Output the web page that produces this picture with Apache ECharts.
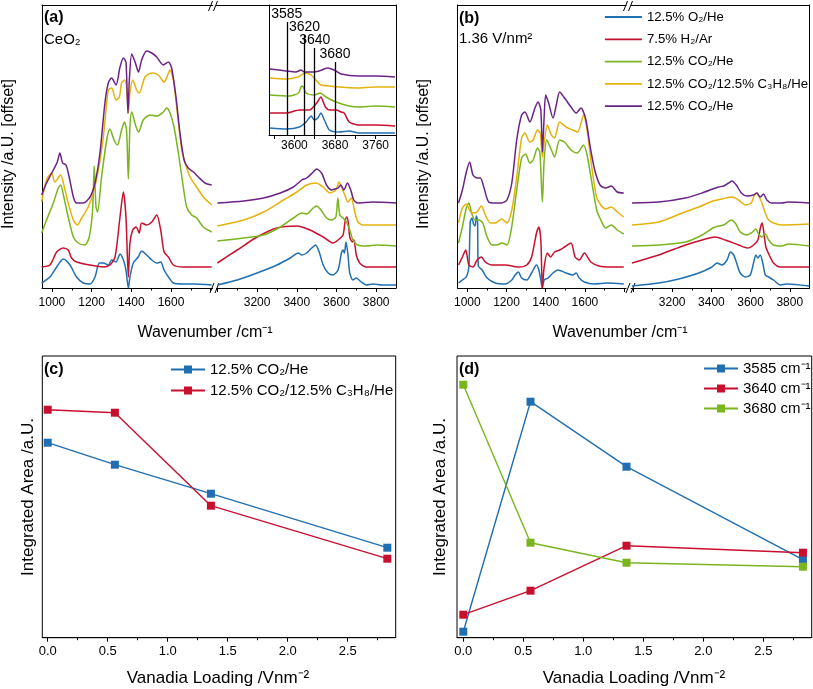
<!DOCTYPE html>
<html><head><meta charset="utf-8">
<script src="https://cdn.jsdelivr.net/npm/echarts@6/dist/echarts.min.js"></script>
<style>html,body{margin:0;padding:0;background:#fff}#c{width:813px;height:689px}</style>
</head><body><div id="c"></div>
<script>
const FONT = '"Liberation Sans", Arial, Helvetica, sans-serif';
const COLORS = ['#1f6fb2', '#c8102e', '#7ab51d', '#e5b20b', '#6b2387']; // blue, red, green, yellow, purple

// ---------- Panel (a) CeO2 : [wavenumber, offset intensity] ----------
const aBlueL = [[948,5],[990,11],[1024,21],[1057,29],[1091,23],[1124,11],[1158,5],[1192,4],[1217,11],[1239,25],[1259,25],[1284,23],[1301,28],[1323,26],[1343,34],[1360,28],[1373,18],[1385,0],[1393,11],[1410,25],[1435,31],[1452,37],[1477,33],[1503,28],[1528,25],[1548,26],[1565,18],[1587,11],[1612,5],[1662,4],[1713,4],[1805,3]];
const aRedL = [[948,21],[990,23],[1024,36],[1057,40],[1082,38],[1099,30],[1124,26],[1192,23],[1259,21],[1292,23],[1318,31],[1343,71],[1360,96],[1373,71],[1385,11],[1393,45],[1407,58],[1424,61],[1440,55],[1452,65],[1477,63],[1503,66],[1528,73],[1548,58],[1565,36],[1587,31],[1612,23],[1662,21],[1729,21],[1805,21]];
const aGreenL = [[948,55],[973,68],[1007,85],[1032,100],[1044,103],[1060,91],[1082,71],[1108,51],[1133,45],[1166,43],[1188,51],[1205,78],[1213,122],[1222,81],[1230,76],[1250,111],[1276,148],[1292,159],[1313,148],[1330,143],[1351,158],[1365,166],[1376,158],[1385,109],[1393,161],[1402,176],[1424,161],[1437,156],[1460,168],[1494,173],[1528,172],[1561,176],[1578,180],[1595,175],[1615,161],[1637,135],[1659,105],[1679,81],[1704,73],[1729,70],[1763,61],[1805,56]];
const aYellowL = [[948,86],[973,108],[998,115],[1015,106],[1044,113],[1060,103],[1082,85],[1108,68],[1128,63],[1150,70],[1183,81],[1208,95],[1234,118],[1259,151],[1284,198],[1301,200],[1323,188],[1340,191],[1351,205],[1368,208],[1380,191],[1385,175],[1393,195],[1407,208],[1427,198],[1440,195],[1469,211],[1503,215],[1536,213],[1565,206],[1578,210],[1595,218],[1612,208],[1632,175],[1654,138],[1671,125],[1696,111],[1729,101],[1763,91],[1805,83]];
const aPurpleL = [[948,93],[973,105],[1007,118],[1027,126],[1040,135],[1054,125],[1071,123],[1087,111],[1108,91],[1124,85],[1158,85],[1192,91],[1217,105],[1242,135],[1267,185],[1284,205],[1301,210],[1323,203],[1343,221],[1360,230],[1373,226],[1383,175],[1390,208],[1402,234],[1419,226],[1436,216],[1452,228],[1477,237],[1503,235],[1528,231],[1561,223],[1587,226],[1603,220],[1625,191],[1645,155],[1666,128],[1687,120],[1713,116],[1738,111],[1771,105],[1805,103]];

const aBlueR = [[3000,3],[3100,8],[3200,15],[3300,23],[3367,30],[3408,35],[3425,33],[3450,35],[3475,40],[3495,43],[3513,36],[3533,23],[3558,15],[3583,13],[3608,18],[3625,35],[3633,38],[3640,35],[3648,46],[3657,35],[3667,15],[3683,8],[3700,10],[3725,6],[3750,3],[3783,4],[3833,3],[3900,3]];
const aRedR = [[3000,25],[3100,38],[3200,51],[3300,60],[3400,62],[3467,58],[3533,51],[3583,45],[3608,48],[3633,53],[3643,66],[3652,71],[3660,65],[3667,51],[3680,46],[3688,48],[3700,33],[3717,25],[3750,21],[3800,21],[3900,21]];
const aGreenR = [[3000,47],[3133,50],[3233,53],[3317,61],[3383,70],[3425,75],[3450,74],[3483,80],[3500,82],[3522,78],[3550,70],[3575,68],[3597,71],[3607,90],[3617,73],[3633,70],[3650,66],[3667,58],[3683,48],[3708,43],[3750,42],[3800,43],[3900,42]];
const aYellowR = [[3000,62],[3133,68],[3233,76],[3333,88],[3400,96],[3450,103],[3497,105],[3533,101],[3567,95],[3597,98],[3613,106],[3625,101],[3642,93],[3658,86],[3675,90],[3692,76],[3708,66],[3733,63],[3800,63],[3900,63]];
const aPurpleR = [[3000,85],[3133,87],[3233,90],[3317,95],[3383,101],[3425,108],[3450,110],[3483,116],[3500,119],[3525,115],[3550,103],[3575,98],[3592,99],[3608,100],[3622,103],[3638,98],[3655,105],[3672,98],[3687,88],[3708,85],[3783,86],[3900,85]];

// inset of (a)
const iBlue = [[3552,7],[3584,6],[3610,8],[3623,13],[3633,19],[3639,15],[3646,17],[3652,22],[3659,15],[3669,5],[3688,3],[3708,4],[3727,2],[3798,2]];
const iRed = [[3552,22],[3584,22],[3610,25],[3629,25],[3644,32],[3652,38],[3661,28],[3669,25],[3682,25],[3692,23],[3698,22],[3708,13],[3727,10],[3760,10],[3798,9]];
const iGreen = [[3552,40],[3590,39],[3608,42],[3613,48],[3616,49],[3623,42],[3639,40],[3651,42],[3662,38],[3682,33],[3708,29],[3727,28],[3760,29],[3798,28]];
const iYellow = [[3552,57],[3584,56],[3607,58],[3622,62],[3633,60],[3642,55],[3652,50],[3669,49],[3688,48],[3721,47],[3760,48],[3798,48]];
const iPurple = [[3552,66],[3584,64],[3603,63],[3613,65],[3620,63],[3636,63],[3649,64],[3665,67],[3678,65],[3692,61],[3727,59],[3760,59],[3798,58]];
const insetLineWn = [3585, 3620, 3640, 3680];
const insetLineTop = [113, 100, 87, 73];

// ---------- Panel (b) 1.36 V/nm2 ----------
const bBlueL = [[955,5],[975,8],[995,11],[1008,21],[1015,66],[1024,70],[1032,64],[1040,62],[1046,72],[1052,68],[1056,22],[1076,18],[1101,10],[1143,5],[1193,4],[1227,8],[1244,13],[1261,16],[1277,10],[1303,8],[1328,15],[1353,23],[1365,18],[1375,8],[1382,0],[1392,8],[1412,10],[1437,15],[1462,18],[1504,15],[1538,13],[1555,15],[1571,10],[1597,6],[1647,4],[1714,5],[1798,4]];
const bRedL = [[955,23],[975,31],[992,38],[1008,23],[1029,21],[1050,28],[1072,31],[1092,26],[1126,23],[1193,23],[1261,21],[1303,23],[1328,31],[1353,55],[1365,61],[1375,48],[1383,0],[1392,21],[1408,35],[1425,31],[1445,36],[1471,38],[1496,41],[1529,45],[1550,31],[1571,28],[1597,35],[1630,26],[1672,22],[1731,21],[1798,21]];
const bGreenL = [[955,45],[975,61],[995,80],[1008,85],[1022,75],[1039,68],[1059,68],[1079,65],[1101,51],[1126,43],[1151,43],[1176,45],[1202,43],[1224,58],[1252,98],[1277,130],[1297,134],[1319,125],[1336,128],[1358,140],[1370,136],[1383,86],[1392,128],[1405,148],[1429,138],[1445,131],[1471,148],[1496,146],[1529,138],[1560,135],[1593,143],[1613,131],[1639,101],[1660,78],[1681,68],[1706,60],[1734,63],[1765,58],[1798,54]];
const bYellowL = [[955,65],[975,80],[995,84],[1017,76],[1042,75],[1072,82],[1092,73],[1118,65],[1143,65],[1176,69],[1202,65],[1227,78],[1252,111],[1277,150],[1294,155],[1319,146],[1336,148],[1358,158],[1372,155],[1383,131],[1392,145],[1408,163],[1429,153],[1445,150],[1471,166],[1504,161],[1538,158],[1563,156],[1593,173],[1613,155],[1635,121],[1659,91],[1681,83],[1706,79],[1734,81],[1765,76],[1798,71]];
const bPurpleL = [[955,85],[975,98],[995,116],[1012,126],[1029,113],[1050,110],[1067,110],[1084,101],[1109,86],[1143,85],[1176,85],[1202,88],[1227,105],[1252,148],[1277,173],[1294,176],[1319,166],[1345,180],[1361,186],[1375,178],[1383,136],[1392,171],[1400,193],[1415,185],[1437,170],[1454,183],[1471,196],[1496,190],[1529,181],[1555,175],[1580,180],[1605,168],[1627,141],[1650,118],[1677,103],[1706,100],[1734,102],[1765,96],[1798,95]];

const bBlueR = [[2995,2],[3132,5],[3234,9],[3336,15],[3403,21],[3429,25],[3454,23],[3480,28],[3497,36],[3514,33],[3527,26],[3547,15],[3573,11],[3598,13],[3615,25],[3627,33],[3637,30],[3649,33],[3661,26],[3675,13],[3692,11],[3717,8],[3751,3],[3785,4],[3900,2]];
const bRedR = [[2995,25],[3132,33],[3268,43],[3370,49],[3417,51],[3471,48],[3539,43],[3586,40],[3615,43],[3637,48],[3651,61],[3659,65],[3668,55],[3678,41],[3695,33],[3717,25],[3751,21],[3810,21],[3900,21]];
const bGreenR = [[2995,42],[3132,43],[3268,46],[3353,53],[3407,60],[3437,62],[3463,63],[3502,68],[3525,64],[3547,56],[3581,53],[3610,56],[3627,59],[3641,54],[3658,51],[3675,54],[3692,48],[3717,43],[3759,42],[3793,44],[3900,42]];
const bYellowR = [[2995,63],[3132,66],[3251,75],[3336,81],[3407,87],[3454,89],[3505,91],[3539,88],[3573,83],[3603,85],[3620,93],[3632,95],[3644,91],[3658,85],[3675,75],[3692,68],[3717,65],[3759,63],[3900,64]];
const bPurpleR = [[2995,85],[3132,86],[3268,90],[3353,95],[3407,99],[3437,101],[3463,102],[3488,105],[3505,107],[3527,103],[3553,95],[3581,92],[3615,93],[3632,95],[3649,91],[3666,94],[3683,88],[3708,85],[3759,85],[3793,86],[3900,85]];

// ---------- Panels (c) and (d) ----------
const loading = [0, 0.56, 1.36, 2.83];
const cCO2 = [195, 173, 144, 90];
const cCO2C3H8 = [228, 225, 132, 79];
const d3585 = [6, 236, 171, 78];
const d3640 = [23, 47, 92, 85];
const d3680 = [253, 95, 75, 71];

// tick labels
const specLeftLabels = [1000, 1200, 1400, 1600];
const specLeftMajor = [1000, 1200, 1400, 1600, 1800];
const specLeftMinor = [1100, 1300, 1500, 1700];
const specRightLabels = [3200, 3400, 3600, 3800];
const specRightMajor = [3000, 3200, 3400, 3600, 3800];
const specRightMinor = [3100, 3300, 3500, 3700];
const insetLabels = [3600, 3680, 3760];
const insetTicks = [3560, 3600, 3640, 3680, 3720, 3760];
const loadLabels = [0, 0.5, 1.0, 1.5, 2.0, 2.5];
const loadMinor = [0.25, 0.75, 1.25, 1.75, 2.25, 2.75];

const LEGEND_TEXT = {
  b0: '12.5% O₂/He', b1: '7.5% H₂/Ar', b2: '12.5% CO₂/He', b3: '12.5% CO₂/12.5% C₃H₈/He', b4: '12.5% CO₂/He',
  c0: '12.5% CO₂/He', c1: '12.5% CO₂/12.5% C₃H₈/He',
  d0: '3585 cm⁻¹', d1: '3640 cm⁻¹', d2: '3680 cm⁻¹'
};

// ---------- layout ----------
const grids = [
  {left: 42, top: 5, width: 170.7, height: 283},     // 0 a-left
  {left: 216.4, top: 5, width: 179.6, height: 283},  // 1 a-right
  {left: 269, top: 5, width: 127, height: 130},      // 2 a-inset
  {left: 457.5, top: 5, width: 168.6, height: 283},  // 3 b-left
  {left: 631, top: 5, width: 178.4, height: 283},    // 4 b-right
  {left: 42.3, top: 356, width: 353.4, height: 281.7, show: true, borderColor: '#000', borderWidth: 1, backgroundColor: 'transparent'}, // 5 c
  {left: 457, top: 356, width: 354.7, height: 281.7, show: true, borderColor: '#000', borderWidth: 1, backgroundColor: 'transparent'}  // 6 d
].map(g => Object.assign({outerBoundsMode: 'none', containLabel: false}, g));

const xAxes = [], yAxes = [];
const black = {color: '#000', width: 1};
function mainX(gi, min, max, labels, major, fs, margin, fmt) {
  xAxes.push({type: 'value', gridIndex: gi, min, max, position: 'bottom',
    axisLine: {show: true, onZero: false, lineStyle: black},
    axisTick: {show: true, length: 4, customValues: major, lineStyle: black},
    axisLabel: {show: true, customValues: labels, fontSize: fs, margin, color: '#000', fontFamily: FONT, formatter: fmt || (v => String(v))},
    splitLine: {show: false}});
  return xAxes.length - 1;
}
function tickX(gi, min, max, vals, len) {
  xAxes.push({type: 'value', gridIndex: gi, min, max, position: 'bottom',
    axisLine: {show: false, onZero: false}, axisTick: {show: true, length: len, customValues: vals, lineStyle: black},
    axisLabel: {show: false}, splitLine: {show: false}});
}
function topX(gi, min, max) {
  xAxes.push({type: 'value', gridIndex: gi, min, max, position: 'top',
    axisLine: {show: true, onZero: false, lineStyle: black}, axisTick: {show: false}, axisLabel: {show: false}, splitLine: {show: false}});
}
function yAx(gi, min, max, pos, line) {
  yAxes.push({type: 'value', gridIndex: gi, min, max, position: pos,
    axisLine: {show: line, onZero: false, lineStyle: black}, axisTick: {show: false}, axisLabel: {show: false}, splitLine: {show: false}});
  return yAxes.length - 1;
}

// (a)
const xaL = mainX(0, 950, 1810, specLeftLabels, specLeftMajor, 12, 9); tickX(0, 950, 1810, specLeftMinor, 2.5); topX(0, 950, 1810);
const yaL = yAx(0, 0, 283, 'left', true);
const xaR = mainX(1, 2995, 3900, specRightLabels, specRightMajor, 12, 9); tickX(1, 2995, 3900, specRightMinor, 2.5); topX(1, 2995, 3900);
const yaR = yAx(1, 0, 283, 'right', true);
const xIn = mainX(2, 3550, 3800, insetLabels, insetTicks, 12, 5);
const yIn = yAx(2, 0, 130, 'left', true);
// (b)
const xbL = mainX(3, 950, 1810, specLeftLabels, specLeftMajor, 12, 9); tickX(3, 950, 1810, specLeftMinor, 2.5); topX(3, 950, 1810);
const ybL = yAx(3, 0, 283, 'left', true);
const xbR = mainX(4, 2990, 3900, specRightLabels, specRightMajor, 12, 9); tickX(4, 2990, 3900, specRightMinor, 2.5); topX(4, 2990, 3900);
const ybR = yAx(4, 0, 283, 'right', true);
// (c), (d)
const fmt1 = v => v.toFixed(1);
const xc = mainX(5, -0.045, 2.9, loadLabels, loadLabels, 13, 7, fmt1); tickX(5, -0.045, 2.9, loadMinor, 2.5);
const yc = yAx(5, 0, 281.7, 'left', false);
const xd = mainX(6, -0.0525, 2.903, loadLabels, loadLabels, 13, 7, fmt1); tickX(6, -0.0525, 2.903, loadMinor, 2.5);
const yd = yAx(6, 0, 281.7, 'left', false);

function spec(name, data, xi, yi, ci, extra) {
  return Object.assign({type: 'line', name, data, xAxisIndex: xi, yAxisIndex: yi, symbol: 'none', showSymbol: false,
    smooth: 0.25, clip: true, lineStyle: {color: COLORS[ci], width: 1.5}, itemStyle: {color: COLORS[ci]},
    emphasis: {disabled: true}, animation: false}, extra || {});
}
function pts(name, ys, xi, yi, ci) {
  return {type: 'line', name, data: loading.map((x, i) => [x, ys[i]]), xAxisIndex: xi, yAxisIndex: yi,
    symbol: 'rect', symbolSize: 8, showSymbol: true, lineStyle: {color: COLORS[ci], width: 1.4},
    itemStyle: {color: COLORS[ci]}, emphasis: {disabled: true}, animation: false};
}

const series = [
  spec('a0', aBlueL, xaL, yaL, 0), spec('a1', aRedL, xaL, yaL, 1), spec('a2', aGreenL, xaL, yaL, 2), spec('a3', aYellowL, xaL, yaL, 3), spec('a4', aPurpleL, xaL, yaL, 4),
  spec('a0r', aBlueR, xaR, yaR, 0), spec('a1r', aRedR, xaR, yaR, 1), spec('a2r', aGreenR, xaR, yaR, 2), spec('a3r', aYellowR, xaR, yaR, 3), spec('a4r', aPurpleR, xaR, yaR, 4),
  spec('i0', iBlue, xIn, yIn, 0, {markLine: {silent: true, symbol: ['none', 'none'], animation: false,
    lineStyle: {color: '#000', width: 1.3, type: 'solid'}, emphasis: {disabled: true},
    label: {show: true, position: 'end', formatter: '{b}', fontSize: 14, color: '#000', fontFamily: FONT, distance: 1},
    data: insetLineWn.map((w, i) => [{name: String(w), coord: [w, 0]}, {coord: [w, insetLineTop[i]]}])}}),
  spec('i1', iRed, xIn, yIn, 1), spec('i2', iGreen, xIn, yIn, 2), spec('i3', iYellow, xIn, yIn, 3), spec('i4', iPurple, xIn, yIn, 4),
  spec('b0', bBlueL, xbL, ybL, 0), spec('b1', bRedL, xbL, ybL, 1), spec('b2', bGreenL, xbL, ybL, 2), spec('b3', bYellowL, xbL, ybL, 3), spec('b4', bPurpleL, xbL, ybL, 4),
  spec('b0r', bBlueR, xbR, ybR, 0), spec('b1r', bRedR, xbR, ybR, 1), spec('b2r', bGreenR, xbR, ybR, 2), spec('b3r', bYellowR, xbR, ybR, 3), spec('b4r', bPurpleR, xbR, ybR, 4),
  pts('c0', cCO2, xc, yc, 0), pts('c1', cCO2C3H8, xc, yc, 1),
  pts('d0', d3585, xd, yd, 0), pts('d1', d3640, xd, yd, 1), pts('d2', d3680, xd, yd, 2)
];

const legendBase = {orient: 'vertical', padding: 0, selectedMode: false, formatter: n => LEGEND_TEXT[n]};
const legends = [
  Object.assign({}, legendBase, {data: ['b0', 'b1', 'b2', 'b3', 'b4'], left: 604, top: 10.5, itemWidth: 37, itemHeight: 14, itemGap: 9.3,
    itemStyle: {opacity: 0}, lineStyle: {width: 1.8},
    textStyle: {color: '#000', fontFamily: FONT, fontSize: 13.2}}),
  Object.assign({}, legendBase, {data: ['c0', 'c1'], left: 170, top: 362, itemWidth: 34, itemHeight: 10, itemGap: 6,
    textStyle: {color: '#000', fontFamily: FONT, fontSize: 15}}),
  Object.assign({}, legendBase, {data: ['d0', 'd1', 'd2'], left: 703, top: 361, itemWidth: 34, itemHeight: 10, itemGap: 5,
    textStyle: {color: '#000', fontFamily: FONT, fontSize: 15}})
];

function txt(x, y, text, size, opts) {
  return Object.assign({type: 'text', x, y, silent: true,
    style: Object.assign({text, fontSize: size, fontFamily: FONT, fill: '#000', align: 'left', verticalAlign: 'middle'}, (opts && opts.style) || {})},
    opts && opts.rotation ? {rotation: opts.rotation} : {});
}
function brk(x, y) {
  return [
    {type: 'line', silent: true, shape: {x1: x - 5, y1: y + 5, x2: x - 1, y2: y - 5}, style: {stroke: '#000', lineWidth: 1}},
    {type: 'line', silent: true, shape: {x1: x, y1: y + 5, x2: x + 4, y2: y - 5}, style: {stroke: '#000', lineWidth: 1}}
  ];
}
const R = Math.PI / 2;
const graphics = [
  txt(44, 18, '(a)', 16, {style: {fontWeight: 'bold'}}),
  txt(44, 40, 'CeO₂', 15),
  txt(459, 19, '(b)', 16, {style: {fontWeight: 'bold'}}),
  txt(459, 39, '1.36 V/nm²', 15),
  txt(44, 370, '(c)', 16, {style: {fontWeight: 'bold'}}),
  txt(459, 370, '(d)', 16, {style: {fontWeight: 'bold'}}),
  txt(9, 154, 'Intensity /a.U. [offset]', 16, {rotation: R, style: {align: 'center'}}),
  txt(424, 154, 'Intensity /a.U. [offset]', 16, {rotation: R, style: {align: 'center'}}),
  txt(205, 333, 'Wavenumber /cm⁻¹', 16, {style: {align: 'center'}}),
  txt(620, 333, 'Wavenumber /cm⁻¹', 16, {style: {align: 'center'}}),
  txt(28, 497, 'Integrated Area /a.U.', 17, {rotation: R, style: {align: 'center'}}),
  txt(440, 497, 'Integrated Area /a.U.', 17, {rotation: R, style: {align: 'center'}}),
  txt(218, 678, 'Vanadia Loading /Vnm⁻²', 17, {style: {align: 'center'}}),
  txt(634, 678, 'Vanadia Loading /Vnm⁻²', 17, {style: {align: 'center'}}),
  ...brk(213.5, 6), ...brk(215, 288), ...brk(628.5, 6), ...brk(631, 288)
];

const chart = echarts.init(document.getElementById('c'), null, {renderer: 'canvas'});
chart.setOption({
  animation: false,
  backgroundColor: '#fff',
  textStyle: {fontFamily: FONT},
  grid: grids, xAxis: xAxes, yAxis: yAxes, series, legend: legends,
  graphic: {elements: graphics}
});
</script></body></html>
